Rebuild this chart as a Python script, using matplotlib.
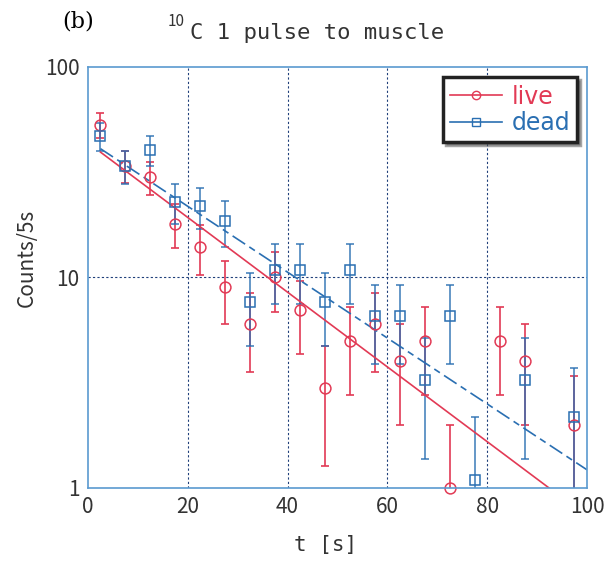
import matplotlib.pyplot as plt
from matplotlib.lines import Line2D

# 5 s bins, bin centres
t_live = [2.5, 7.5, 12.5, 17.5, 22.5, 27.5, 32.5, 37.5, 42.5, 47.5,
          52.5, 57.5, 62.5, 67.5, 72.5, 82.5, 87.5, 97.5]
live = [53, 34, 30, 18, 14, 9, 6, 10, 7, 3, 5, 6, 4, 5, 1, 5, 4, 2]
live_err = [7.28, 5.83, 5.48, 4.24, 3.74, 3.0, 2.45, 3.16, 2.65, 1.73,
            2.24, 2.45, 2.0, 2.24, 1.0, 2.24, 2.0, 1.41]

t_dead = [2.5, 7.5, 12.5, 17.5, 22.5, 27.5, 32.5, 37.5, 42.5, 47.5,
          52.5, 57.5, 62.5, 67.5, 72.5, 77.5, 87.5, 97.5]
dead = [46.9, 33.8, 40.3, 22.9, 21.8, 18.5, 7.63, 10.9, 10.9, 7.63,
        10.9, 6.54, 6.54, 3.27, 6.54, 1.09, 3.27, 2.18]
dead_err = [7.15, 6.07, 6.63, 5.0, 4.87, 4.49, 2.88, 3.45, 3.45, 2.88,
            3.45, 2.67, 2.67, 1.89, 2.67, 1.09, 1.89, 1.54]

# exponential fits (straight on log axis)
fit_live_t = [2.5, 92.4]
fit_live = [39.4, 1.0]
fit_dead_t = [2.5, 100]
fit_dead = [40.9, 1.22]

red = '#e23a55'
blue = '#2a6fb2'
grid_c = '#1f3f7a'
gothic = ['Noto Sans CJK JP', 'DejaVu Sans']

fig = plt.figure(figsize=(6.06, 5.64), dpi=100)
ax = fig.add_axes([0.1452, 0.1348, 0.8234, 0.7465])

ax.errorbar(t_live, live, yerr=live_err, fmt='none', ecolor=red, elinewidth=1.2,
            capsize=3, capthick=1.2)
ax.errorbar(t_dead, dead, yerr=dead_err, fmt='none', ecolor=blue, elinewidth=1.2,
            capsize=3, capthick=1.2, alpha=0.85)
ax.plot(fit_live_t, fit_live, color=red, lw=1.2)
ax.plot(fit_dead_t, fit_dead, color=blue, lw=1.2, dashes=(9, 3, 4, 3))
ax.plot(t_live, live, 'o', ms=7.8, mfc='none', mec=red, mew=1.1, clip_on=False)
ax.plot(t_dead, dead, 's', ms=7.5, mfc='none', mec=blue, mew=1.1, clip_on=False)

ax.set_yscale('log')
ax.set_xlim(0, 100)
ax.set_ylim(1, 100)
ax.set_xticks([0, 20, 40, 60, 80, 100])
ax.set_yticks([1, 10, 100])
ax.set_yticklabels(['1', '10', '100'])
ax.minorticks_off()
ax.tick_params(direction='in', length=0, labelsize=15, pad=6, labelcolor='#333333')
for lab in ax.get_xticklabels() + ax.get_yticklabels():
    lab.set_family(gothic)
for s in ax.spines.values():
    s.set_color('#5a9ad0')
    s.set_linewidth(1.2)

for xv in [20, 40, 60, 80]:
    ax.axvline(xv, color=grid_c, lw=0.8, ls=(0, (2, 2)), zorder=0)
ax.axhline(10, color=grid_c, lw=0.8, ls=(0, (2, 2)), zorder=0)

ax.set_xlabel('t [s]', fontsize=15, family='DejaVu Sans Mono', color='#333333')
ax.set_ylabel('Counts/5s', fontsize=15, family=gothic, color='#333333')
ax.xaxis.set_label_coords(0.477, -0.112)
ax.yaxis.set_label_coords(-0.10, 0.546)

fig.text(0.102, 0.962, '(b)', fontsize=16, family='DejaVu Serif', va='center')
fig.text(0.277, 0.962, '10', fontsize=11, family=gothic, va='center', color='#333333')
fig.text(0.3135, 0.941, 'C 1 pulse to muscle', fontsize=16, va='center',
         family='DejaVu Sans Mono', color='#333333')

handles = [Line2D([], [], color=red, marker='o', ms=6, mfc='none', lw=1.2),
           Line2D([], [], color=blue, marker='s', ms=6, mfc='none', lw=1.2)]
leg = ax.legend(handles, ['live', 'dead'], loc='upper right', fontsize=17,
                bbox_to_anchor=(0.98, 0.975), fancybox=False, shadow=True,
                framealpha=1, handlelength=2.2, handletextpad=0.4,
                borderpad=0.3, labelspacing=0.1, borderaxespad=0)
leg.get_frame().set_edgecolor('#222222')
leg.get_frame().set_linewidth(2.5)
for txt, c in zip(leg.get_texts(), [red, blue]):
    txt.set_color(c)

fig.savefig('out.png', dpi=100)
